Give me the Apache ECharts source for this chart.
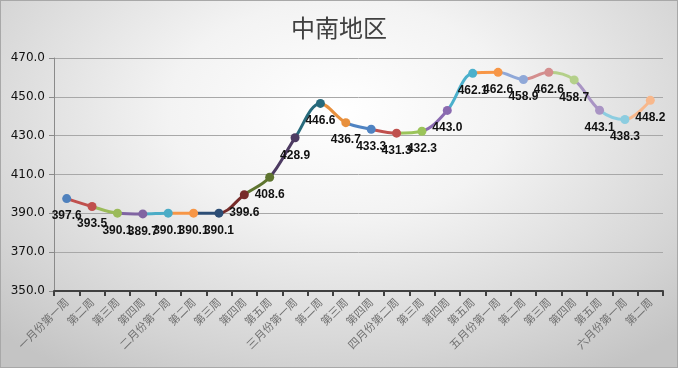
<!DOCTYPE html>
<html>
<head>
<meta charset="utf-8">
<script src="https://cdn.jsdelivr.net/npm/echarts@6/dist/echarts.min.js"></script>
<style>
html,body{margin:0;padding:0;}
#wrap{width:676px;height:366px;border:1px solid #a8a8a8;
background:radial-gradient(ellipse 72% 85% at 50% 30%, #ffffff 0%, #f3f3f3 35%, #d4d4d4 80%, #c4c4c4 100%);}
#chart{width:676px;height:366px;}
</style>
</head>
<body>
<div id="wrap"><div id="chart"></div></div>
<script>
const title = '中南地区';
const categories = ['一月份第一周','第二周','第三周','第四周','二月份第一周','第二周','第三周','第四周','第五周','三月份第一周','第二周','第三周','第四周','四月份第二周','第三周','第四周','第五周','五月份第一周','第二周','第三周','第四周','第五周','六月份第一周','第二周'];
const values = [397.6,393.5,390.1,389.7,390.1,390.1,390.1,399.6,408.6,428.9,446.6,436.7,433.3,431.3,432.3,443.0,462.1,462.6,458.9,462.6,458.7,443.1,438.3,448.2];
const yTicks = {min:350, max:470, interval:20};
const pointColors = ['#4f81bd','#c0504d','#9bbb59','#8064a2','#4bacc6','#f79646',
  '#2c4d75','#772c2a','#5f7530','#4d3b62','#276a7c','#e8903d',
  '#4f83c2','#c0504d','#9bc45a','#8a6ab0','#4bb0cc','#f79646',
  '#8fa8d8','#d48e8e','#b4d08a','#a994c4','#8ccde0','#f8b88c'];

const pieces = pointColors.map((c,i)=> i===0 ? {lte:0, color:c} : {gt:i-1, lte:i, color:c});
const chart = echarts.init(document.getElementById('chart'));
chart.setOption({
  backgroundColor:'transparent',
  animation:false,
  title:{text:title,left:'center',top:10,textStyle:{fontFamily:'Noto Sans CJK SC',fontSize:24,fontWeight:'normal',color:'#404040'}},
  grid:{left:53,right:14,top:57,bottom:76},
  visualMap:{type:'piecewise',show:false,dimension:0,seriesIndex:0,pieces:pieces},
  xAxis:{type:'category',data:categories,boundaryGap:true,
    axisLine:{lineStyle:{color:'#404040',width:2}},
    axisTick:{show:true,interval:0,length:5,lineStyle:{color:'#404040',width:2}},
    axisLabel:{interval:0,rotate:45,fontFamily:'Noto Sans CJK SC',fontSize:11,color:'#707070',margin:9}},
  yAxis:{type:'value',min:yTicks.min,max:yTicks.max,interval:yTicks.interval,
    axisLine:{show:true,lineStyle:{color:'#8a8a8a'}},
    axisTick:{show:true,length:5,lineStyle:{color:'#8a8a8a'}},
    splitLine:{lineStyle:{color:'#a8a8a8'}},
    axisLabel:{formatter:v=>v.toFixed(1),fontFamily:'DejaVu Sans',fontSize:12,color:'#111',margin:9}},
  series:[{type:'line',data:values,smooth:0.35,symbol:'circle',symbolSize:9,
    lineStyle:{width:3},
    label:{show:true,position:'bottom',distance:7,formatter:p=>p.value.toFixed(1),
      fontFamily:'Liberation Sans',fontSize:12,fontWeight:'bold',color:'#111'}}]
});
</script>
</body>
</html>
